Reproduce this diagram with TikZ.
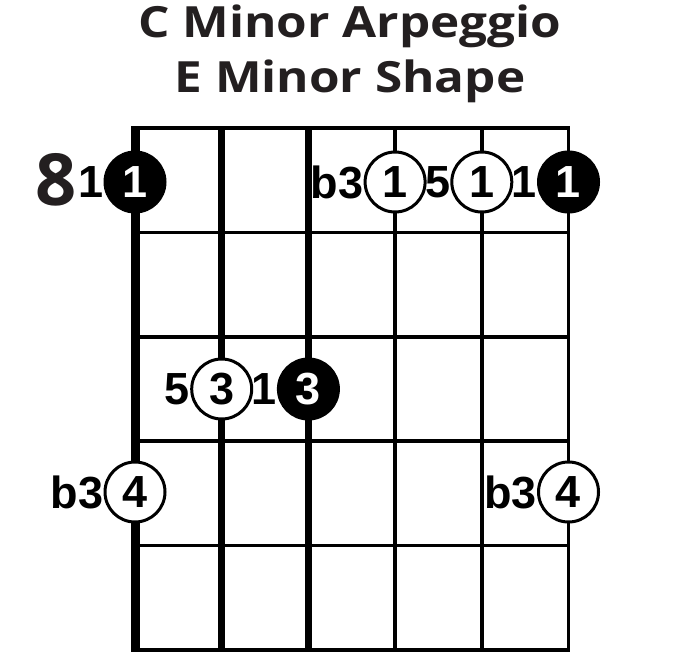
\documentclass[tikz,border=0pt]{standalone}
\usepackage{fontspec}
\usepackage{tikz}
\usetikzlibrary{positioning}
\newfontfamily\titlefont{Open Sans}[FakeStretch=1.15]
\newfontfamily\fretfont{Open Sans}
\newfontfamily\labelfont{Liberation Sans}
\newcommand\dotfont{\labelfont\bfseries\fontsize{45}{45}\selectfont}
\definecolor{inkgray}{RGB}{35,31,32}

\begin{document}
\begin{tikzpicture}[x=1pt, y=-1pt,
      fretline/.style={line width=3.5pt},
      notedot/.style={circle, draw=black, fill=white, line width=3pt, minimum size=60pt, inner sep=0pt, font=\dotfont},
      rootdot/.style={notedot, fill=black, text=white},
      degree/.style={inner sep=0pt, font=\dotfont}
    ]
      \useasboundingbox (0,0) rectangle (700,653);

      % Title
      \node[anchor=base, text=inkgray, font=\titlefont\bfseries\fontsize{43}{43}\selectfont] (title1) at (350,37) {C Minor Arpeggio};
      \node[anchor=base, text=inkgray, font=\titlefont\bfseries\fontsize{43}{43}\selectfont] (title2) at (350,92) {E Minor Shape};

      % Frets and strings
      \foreach \f in {0,...,5}
        \draw[fretline] (135,128+104.4*\f) -- (568.5,128+104.4*\f);
      \foreach \s/\w in {0/9,1/6.5,2/6.5,3/4.5,4/4.5,5/3.6}
        \draw[line width=\w pt] (135+86.7*\s,126.25) -- (135+86.7*\s,651.75);

      % Fret number
      \node[text=inkgray, inner sep=0pt, font=\fretfont\bfseries\fontsize{72}{72}\selectfont] (fretnum) at (56,180) {8};

      % Fret 8
      \node[rootdot] (f8s6) at (135,182) {1};
      \node[notedot] (f8s3) at (395.1,182) {1};
      \node[notedot] (f8s2) at (481.8,182) {1};
      \node[rootdot] (f8s1) at (568.5,182) {1};
      \node[degree, left=0pt of f8s6] (l8s6) {1};
      \node[degree, left=0pt of f8s3] (l8s3) {b3};
      \node[degree, left=0pt of f8s2] (l8s2) {5};
      \node[degree, left=0pt of f8s1] (l8s1) {1};

      % Fret 10
      \node[notedot] (f10s5) at (221.7,389) {3};
      \node[rootdot] (f10s4) at (308.4,389) {3};
      \node[degree, left=0pt of f10s5] (l10s5) {5};
      \node[degree, left=0pt of f10s4] (l10s4) {1};

      % Fret 11
      \node[notedot] (f11s6) at (135,492) {4};
      \node[notedot] (f11s1) at (568.5,492) {4};
      \node[degree, left=0pt of f11s6] (l11s6) {b3};
      \node[degree, left=0pt of f11s1] (l11s1) {b3};
    \end{tikzpicture}
\end{document}
